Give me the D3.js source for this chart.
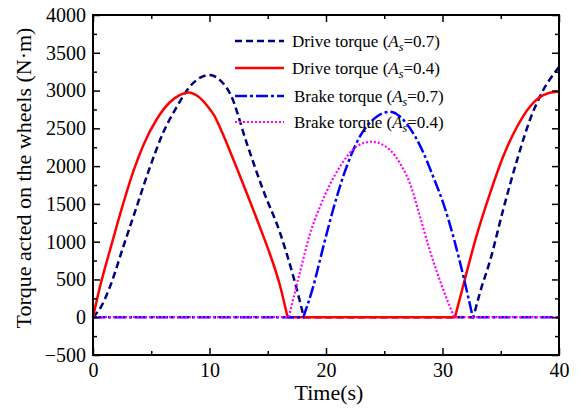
<!DOCTYPE html>
<html>
<head>
<meta charset="utf-8">
<script src="https://cdn.jsdelivr.net/npm/d3@7/dist/d3.min.js"></script>
<style>
  html, body { margin: 0; padding: 0; background: #fff; }
  svg text { font-family: "Liberation Serif", "Times New Roman", serif; fill: #000; }
</style>
</head>
<body>
<svg id="chart" width="580" height="410"></svg>
<script>
// ---- Data ----
const driveTime07 = [0, 0.7, 1.46, 2.6, 3.75, 4.9, 6.0, 7.2, 8.3, 9.2, 10.0, 10.9, 11.8, 13.2, 14.6, 16.05, 17.2, 18.1, 32.65, 33.2, 34.1, 35.2, 36.4, 37.5, 38.65, 39.8, 40];
const driveVal07  = [0, 140, 405, 934, 1463, 1992, 2434, 2786, 3050, 3170, 3205, 3139, 2950, 2302, 1684, 1120, 537, 0, 0, 317, 758, 1419, 2080, 2610, 3007, 3271, 3310];

const driveTime04 = [0, 0.6, 1.46, 2.6, 3.46, 4.3, 5.47, 6.6, 7.4, 8.2, 9.0, 9.8, 10.4, 11.1, 11.75, 13.2, 14.6, 15.2, 16.05, 16.7, 31.07, 31.8, 32.9, 34.08, 35.2, 36.4, 37.5, 38.65, 39.8, 40];
const driveVal04  = [0, 405, 890, 1508, 1930, 2270, 2620, 2845, 2935, 2975, 2925, 2800, 2670, 2440, 2200, 1640, 1080, 830, 420, 0, 0, 430, 1066, 1640, 2124, 2521, 2786, 2940, 2984, 2985];

const brakeTime07 = [0, 18.05, 18.9, 19.77, 20.6, 21.77, 22.9, 24.35, 25.5, 26.9, 28.35, 29.2, 30.07, 30.93, 31.8, 32.6, 40];
const brakeVal07  = [0, 0, 405, 934, 1419, 1992, 2389, 2653, 2720, 2566, 2180, 1860, 1508, 1066, 537, 0, 0];

const brakeTime04 = [0, 16.8, 17.77, 18.6, 19.5, 21.2, 22.6, 23.9, 25.5, 26.35, 27.2, 28.07, 28.9, 30.07, 31.0, 40];
const brakeVal04  = [0, 0, 600, 1090, 1470, 1992, 2257, 2323, 2213, 2037, 1772, 1331, 890, 361, 0, 0];

const seriesNames = ["Drive torque", "Drive torque", "Brake torque", "Brake torque"];
const seriesAs = ["0.7", "0.4", "0.7", "0.4"];

const xTickLabels = [0, 10, 20, 30, 40];
const xMinorTicks = [5, 15, 25, 35];
const yTickLabels = [-500, 0, 500, 1000, 1500, 2000, 2500, 3000, 3500, 4000];
const yMinorTicks = [-250, 250, 750, 1250, 1750, 2250, 2750, 3250, 3750];

const xTitle = "Time(s)";
const yTitle = "Torque acted on the wheels (N·m)";

// ---- Layout / styles ----
const svg = d3.select("#chart");
const L = 93, R = 559, T = 15, B = 355;
const x = d3.scaleLinear().domain([0, 40]).range([L, R]);
const y = d3.scaleLinear().domain([-500, 4000]).range([B, T]);

const styles = [
  { color: "#00007F", width: 2.5, dash: "7,4" },
  { color: "#FF0000", width: 2.5, dash: null },
  { color: "#0000FF", width: 2.5, dash: "12,3,3,3" },
  { color: "#FF00FF", width: 2.2, dash: "2,2" }
];

const series = [
  { t: driveTime07, v: driveVal07 },
  { t: driveTime04, v: driveVal04 },
  { t: brakeTime07, v: brakeVal07 },
  { t: brakeTime04, v: brakeVal04 }
];

const lineLin = d3.line().x(d => x(d.t)).y(d => y(d.v));
const lineSmooth = d3.line().x(d => x(d.t)).y(d => y(d.v)).curve(d3.curveMonotoneX);

function buildPath(ts, vs) {
  const pts = ts.map((t, i) => ({ t, v: vs[i] }));
  const n = pts.length;
  let d = "";
  let i = 0;
  while (i < n - 1) {
    let j, gen;
    if (pts[i].v === 0 && pts[i + 1].v === 0) {
      j = i + 1;
      while (j + 1 < n && pts[j + 1].v === 0) j++;
      gen = lineLin;
    } else {
      j = i + 1;
      while (j < n - 1 && pts[j].v !== 0) j++;
      gen = lineSmooth;
    }
    let p = gen(pts.slice(i, j + 1));
    if (d) p = p.replace(/^M/, "L");
    d += p;
    i = j;
  }
  return d;
}

// ---- Curves ----
const curves = svg.append("g");
series.forEach((s, k) => {
  curves.append("path")
    .attr("d", buildPath(s.t, s.v))
    .attr("fill", "none")
    .attr("stroke", styles[k].color)
    .attr("stroke-width", styles[k].width)
    .attr("stroke-dasharray", styles[k].dash)
    .attr("stroke-linejoin", "round");
});

// ---- Axes ----
function styleAxis(g) {
  g.select(".domain").remove();
  g.selectAll(".tick line").attr("stroke", "#000").attr("stroke-width", 1.5);
  g.selectAll("text").style("font-size", "20px").attr("fill", "#000");
}
const fmtNone = () => "";

svg.append("g").attr("transform", `translate(0,${B})`)
  .call(d3.axisBottom(x).tickValues(xTickLabels).tickSize(-7).tickPadding(8).tickFormat(d3.format("d")))
  .call(styleAxis);
svg.append("g").attr("transform", `translate(0,${B})`)
  .call(d3.axisBottom(x).tickValues(xMinorTicks).tickSize(-4).tickFormat(fmtNone))
  .call(styleAxis);
svg.append("g").attr("transform", `translate(0,${T})`)
  .call(d3.axisTop(x).tickValues(xTickLabels).tickSize(-7).tickFormat(fmtNone))
  .call(styleAxis);
svg.append("g").attr("transform", `translate(0,${T})`)
  .call(d3.axisTop(x).tickValues(xMinorTicks).tickSize(-4).tickFormat(fmtNone))
  .call(styleAxis);

svg.append("g").attr("transform", `translate(${L},0)`)
  .call(d3.axisLeft(y).tickValues(yTickLabels).tickSize(-7).tickPadding(7).tickFormat(d3.format("d")))
  .call(styleAxis);
svg.append("g").attr("transform", `translate(${L},0)`)
  .call(d3.axisLeft(y).tickValues(yMinorTicks).tickSize(-4).tickFormat(fmtNone))
  .call(styleAxis);
svg.append("g").attr("transform", `translate(${R},0)`)
  .call(d3.axisRight(y).tickValues(yTickLabels).tickSize(-7).tickFormat(fmtNone))
  .call(styleAxis);
svg.append("g").attr("transform", `translate(${R},0)`)
  .call(d3.axisRight(y).tickValues(yMinorTicks).tickSize(-4).tickFormat(fmtNone))
  .call(styleAxis);

// Frame
svg.append("rect")
  .attr("x", L).attr("y", T).attr("width", R - L).attr("height", B - T)
  .attr("fill", "none").attr("stroke", "#000").attr("stroke-width", 2);

// ---- Titles ----
svg.append("text")
  .attr("x", (L + R) / 2 + 3).attr("y", 400)
  .attr("text-anchor", "middle")
  .style("font-size", "22px")
  .text(xTitle);

svg.append("text")
  .attr("transform", `translate(31,${178}) rotate(-90)`)
  .attr("text-anchor", "middle")
  .style("font-size", "22px")
  .text(yTitle);

// ---- Legend ----
const legRows = [41, 68, 96, 122];
const legend = svg.append("g");
series.forEach((s, k) => {
  const yy = legRows[k];
  legend.append("line")
    .attr("x1", 235).attr("x2", 284).attr("y1", yy).attr("y2", yy)
    .attr("stroke", styles[k].color)
    .attr("stroke-width", styles[k].width)
    .attr("stroke-dasharray", styles[k].dash);
  const tx = legend.append("text")
    .attr("x", k < 2 ? 292 : 294).attr("y", yy + 6)
    .style("font-size", "17px");
  tx.append("tspan").text(seriesNames[k] + " (");
  tx.append("tspan").style("font-style", "italic").text("A");
  tx.append("tspan").style("font-style", "italic").style("font-size", "12px").attr("dy", 4).text("s");
  tx.append("tspan").attr("dy", -4).text("=" + seriesAs[k] + ")");
});
</script>
</body>
</html>
